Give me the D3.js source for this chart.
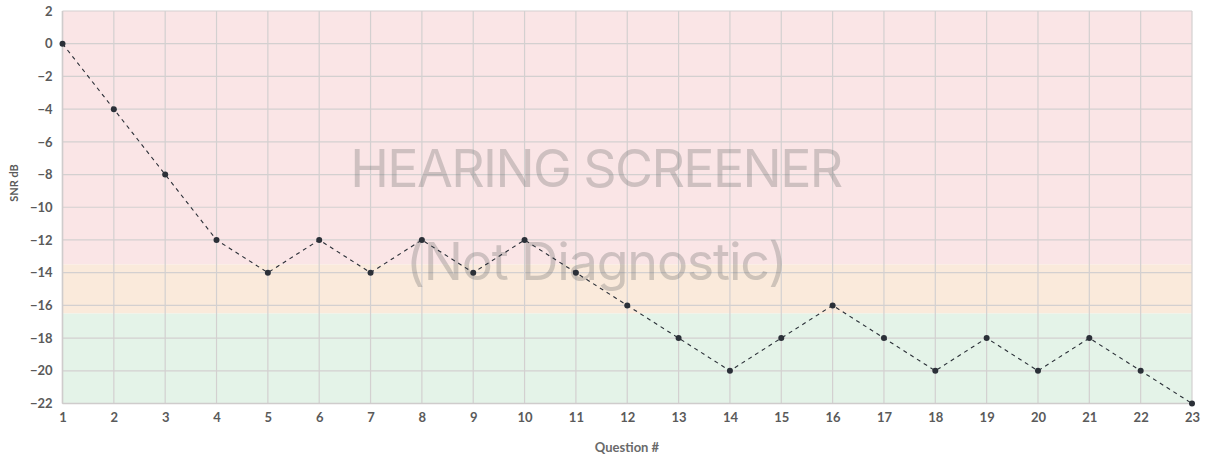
<!DOCTYPE html>
<html><head><meta charset="utf-8">
<script src="https://cdn.jsdelivr.net/npm/d3@7"></script>
<style>html,body{margin:0;padding:0;background:#fff;}svg{display:block;font-family:Lato,"Open Sans",sans-serif;}</style>
</head><body>
<svg id="c" width="1207" height="458"></svg>
<script>
const questions = d3.range(1, 24);
const snr = [0,-4,-8,-12,-14,-12,-14,-12,-14,-12,-14,-16,-18,-20,-18,-16,-18,-20,-18,-20,-18,-20,-22];
const yTicks = d3.range(2, -23, -2);
const bands = [
  {from: 2, to: -13.5, color: "#fae5e6"},
  {from: -13.5, to: -16.5, color: "#faeadb"},
  {from: -16.5, to: -22, color: "#e4f3e8"}
];
const watermark = ["HEARING SCREENER", "(Not Diagnostic)"];

const svg = d3.select("#c");
const m = {l: 62.5, r: 1192, t: 11, b: 403.5};
const x = d3.scaleLinear().domain([1, 23]).range([m.l, m.r]);
const y = d3.scaleLinear().domain([2, -22]).range([m.t, m.b]);

svg.selectAll("rect.band").data(bands).enter().append("rect")
  .attr("x", m.l).attr("width", m.r - m.l)
  .attr("y", d => y(d.from)).attr("height", d => y(d.to) - y(d.from))
  .attr("fill", d => d.color);

// grid
svg.append("g").selectAll("line").data(questions).enter().append("line")
  .attr("x1", d => x(d)).attr("x2", d => x(d)).attr("y1", m.t).attr("y2", m.b)
  .attr("stroke", "#d3d0d0").attr("stroke-width", 1.2);
svg.append("g").selectAll("line").data(yTicks).enter().append("line")
  .attr("y1", d => y(d)).attr("y2", d => y(d)).attr("x1", m.l).attr("x2", m.r)
  .attr("stroke", "#d3d0d0").attr("stroke-width", 1.2);

// watermark
svg.append("text").attr("x", 596).attr("y", 187).attr("text-anchor", "middle")
  .attr("font-size", 52).attr("font-family", "Inter, Lato, sans-serif").attr("font-weight", 400)
  .attr("fill", "rgba(105,105,105,0.3)").attr("letter-spacing", -1.6).text(watermark[0]);
svg.append("text").attr("x", 596).attr("y", 280).attr("text-anchor", "middle")
  .attr("font-size", 52).attr("font-family", "Inter, Lato, sans-serif").attr("font-weight", 400)
  .attr("fill", "rgba(105,105,105,0.3)").attr("letter-spacing", -1.2).text(watermark[1]);

// axes
const yAxis = d3.axisLeft(y).tickValues(yTicks).tickSize(0).tickPadding(10)
  .tickFormat(d => d < 0 ? "\u2212" + Math.abs(d) : d);
const gy = svg.append("g").attr("transform", `translate(${m.l},0)`).call(yAxis);
gy.select(".domain").remove();
gy.selectAll("text").attr("font-size", 13).attr("font-weight", 700).attr("fill", "#5a5a5a")
  .attr("font-family", "Lato, sans-serif");

const xAxis = d3.axisBottom(x).tickValues(questions).tickSize(0).tickPadding(9);
const gx = svg.append("g").attr("transform", `translate(0,${m.b})`).call(xAxis);
gx.select(".domain").remove();
gx.selectAll("text").attr("font-size", 13).attr("font-weight", 700).attr("fill", "#5a5a5a")
  .attr("font-family", "Lato, sans-serif");

svg.append("line").attr("x1", m.l).attr("x2", m.l).attr("y1", m.t).attr("y2", m.b)
  .attr("stroke", "#cfcccc").attr("stroke-width", 1.5);
svg.append("line").attr("x1", m.l).attr("x2", m.r).attr("y1", m.b).attr("y2", m.b)
  .attr("stroke", "#cfcccc").attr("stroke-width", 1.5);

svg.append("text").attr("x", 627).attr("y", 452).attr("text-anchor", "middle")
  .attr("font-size", 13).attr("font-weight", 700).attr("fill", "#6a6a6a").text("Question #");
svg.append("text").attr("transform", "translate(18,183) rotate(-90)").attr("text-anchor", "middle")
  .attr("font-size", 11).attr("font-weight", 700).attr("fill", "#5a5a5a").text("SNR dB");

// line + points
const pts = questions.map((q, i) => [q, snr[i]]);
svg.append("path").datum(pts)
  .attr("d", d3.line().x(d => x(d[0])).y(d => y(d[1])))
  .attr("fill", "none").attr("stroke", "#2b3038").attr("stroke-width", 1.1)
  .attr("stroke-dasharray", "4,4");
svg.selectAll("circle.pt").data(pts).enter().append("circle")
  .attr("cx", d => x(d[0])).attr("cy", d => y(d[1])).attr("r", 3)
  .attr("fill", "#2b3038");
</script>
</body></html>
